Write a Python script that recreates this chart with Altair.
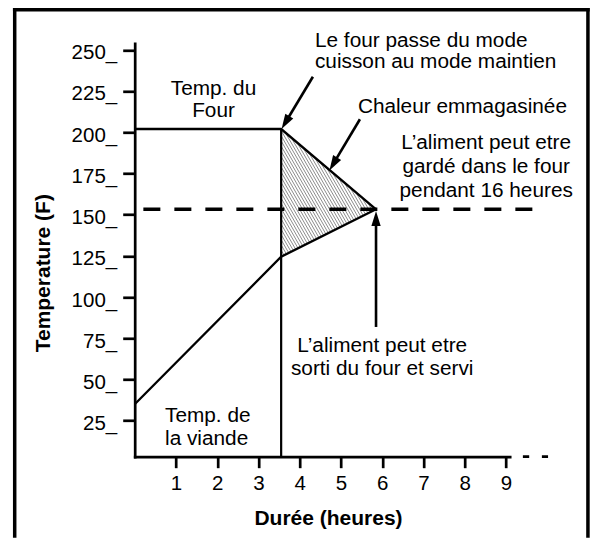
import math
import altair as alt
import pandas as pd

FONT = "Liberation Sans, Arial, Helvetica, sans-serif"

# ---------------- data ----------------
hours = [0, 3.55, 5.85]                 # start, oven switches to hold, food ready
oven_temp = [202, 202, 153.3]           # "Temp. du Four"
meat_temp = [35, 124.5, 153.3]          # "Temp. de la viande"
switch_hour = 3.55
hold_temp = 153.3
hold_from, hold_to = 0.21, 9.95         # dashed line extent
axis_more = [9.41, 10.02]               # "- -" after the x axis

x_ticks = [1, 2, 3, 4, 5, 6, 7, 8, 9]
y_ticks = [25, 50, 75, 100, 125, 150, 175, 200, 225, 250]

# arrows: start (x, y) -> tip (x, y)
arrow_x0 = [4.32, 5.46, 5.85]
arrow_y0 = [233.7, 207.9, 81.9]
arrow_x1 = [3.56, 4.72, 5.85]
arrow_y1 = [202.0, 176.9, 152.3]

notes = [
    ("Temp. du\nFour", 1.91, 222.6, "center", 22.3),
    ("Le four passe du mode\ncuisson au mode maintien", 4.37, 251.9, "left", 21.7),
    ("Chaleur emmagasinée", 5.41, 211.9, "left", 22),
    ("L\u2019aliment peut etre\ngardé dans le four\npendant 16 heures", 8.52, 189.9, "center", 24.2),
    ("L\u2019aliment peut etre\nsorti du four et servi", 6.0, 66.9, "center", 23.3),
    ("Temp. de\nla viande", 0.735, 24.0, "left", 22.7),
]

# ---------------- scales / layout ----------------
X_DOM = [0, 9.09]
Y_DOM = [3.2, 254.0]
W, H = 375, 413.4
SX = W / (X_DOM[1] - X_DOM[0])
SY = H / (Y_DOM[1] - Y_DOM[0])
PAD_L, PAD_T, PAD_R, PAD_B = 126.7, 35.3, 80, 81

x_axis = alt.Axis(values=x_ticks, title="Durée (heures)", grid=False,
                  domainColor="black", domainWidth=2.7, domainCap="square",
                  tickColor="black", tickWidth=2.7, tickSize=11,
                  labelFont=FONT, labelFontSize=20.5, labelColor="black",
                  labelBaseline="alphabetic", labelPadding=22.3,
                  labelFlush=False, labelOverlap=False,
                  titleFont=FONT, titleFontSize=21, titleFontWeight="bold",
                  titleColor="black", titleX=193.3, titleY=68.3,
                  titleBaseline="alphabetic", titleAlign="center")
y_axis = alt.Axis(values=y_ticks, title="Temperature (F)", grid=False,
                  labelExpr="datum.label + '_'",
                  domainColor="black", domainWidth=2.7, domainCap="square",
                  tickColor="black", tickWidth=2.7, tickSize=12,
                  labelFont=FONT, labelFontSize=20.5, labelColor="black",
                  labelBaseline="alphabetic", labelOffset=8.9, labelPadding=6,
                  labelFlush=False, labelOverlap=False,
                  titleFont=FONT, titleFontSize=21, titleFontWeight="bold",
                  titleColor="black", titleX=-84.7, titleY=229.4, titleAngle=270,
                  titleBaseline="alphabetic", titleAlign="center")

xs = alt.Scale(domain=X_DOM, nice=False, zero=False)
ys = alt.Scale(domain=Y_DOM, nice=False, zero=False)


def X(f="x"):
    return alt.X(f"{f}:Q", scale=xs, axis=x_axis)


def Y(f="y"):
    return alt.Y(f"{f}:Q", scale=ys, axis=y_axis)


def to_px(x, y):
    return ((x - X_DOM[0]) * SX, (Y_DOM[1] - y) * SY)


def to_data(px, py):
    return (px / SX + X_DOM[0], Y_DOM[1] - py / SY)


# ---------------- frame ----------------
one = pd.DataFrame({"k": [0]})
frame_style = dict(color="black", strokeWidth=3.5)
right_edge = W + PAD_R - 1.75
frame = [
    alt.Chart(one).mark_rule(**frame_style).encode(
        x=alt.value(-120), y=alt.value(-PAD_T), y2=alt.value(H + PAD_B)),
    alt.Chart(one).mark_rule(**frame_style).encode(
        x=alt.value(right_edge), y=alt.value(-PAD_T), y2=alt.value(H + PAD_B)),
    alt.Chart(one).mark_rule(**frame_style).encode(
        x=alt.value(-121.75), x2=alt.value(right_edge + 1.75),
        y=alt.value(-PAD_T + 1.75)),
]

# ---------------- hatch texture of the stored-heat triangle ----------------
tri = [to_px(hours[1], oven_temp[1]), to_px(hours[2], oven_temp[2]),
       to_px(hours[1], meat_temp[1])]
th = math.radians(60)
d = (math.cos(th), math.sin(th))
n = (-d[1], d[0])
cs = [n[0] * p[0] + n[1] * p[1] for p in tri]
segs = []
c = min(cs) + 1.2
while c < max(cs):
    pts = []
    for i in range(3):
        a, b = tri[i], tri[(i + 1) % 3]
        ca = n[0] * a[0] + n[1] * a[1] - c
        cb = n[0] * b[0] + n[1] * b[1] - c
        if ca * cb < 0:
            t = ca / (ca - cb)
            pts.append((a[0] + t * (b[0] - a[0]), a[1] + t * (b[1] - a[1])))
    if len(pts) >= 2:
        p0 = to_data(*pts[0])
        p1 = to_data(*pts[1])
        segs.append({"x": p0[0], "y": p0[1], "x2": p1[0], "y2": p1[1]})
    c += 2.6
hatch = alt.Chart(pd.DataFrame(segs)).mark_rule(
    color="#777777", strokeWidth=0.85).encode(x=X(), y=Y(), x2="x2:Q", y2="y2:Q")

# ---------------- curves ----------------
curves_df = pd.DataFrame({
    "x": hours + hours,
    "y": oven_temp + meat_temp,
    "s": ["four"] * 3 + ["viande"] * 3,
})
curves = alt.Chart(curves_df).mark_line(color="black", strokeWidth=2.3).encode(
    x=X(), y=Y(), detail="s:N")

vline = alt.Chart(pd.DataFrame({"x": [switch_hour], "y": [Y_DOM[0]],
                                "y2": [oven_temp[1]]})).mark_rule(
    color="black", strokeWidth=2.2).encode(x=X(), y=Y(), y2="y2:Q")

dashed = alt.Chart(pd.DataFrame({"x": [hold_from], "x2": [hold_to],
                                 "y": [hold_temp]})).mark_rule(
    color="black", strokeWidth=3.6, strokeDash=[17, 14]).encode(
    x=X(), x2="x2:Q", y=Y())

more = alt.Chart(pd.DataFrame({"x": [axis_more[0]], "x2": [axis_more[1]],
                               "y": [Y_DOM[0]]})).mark_rule(
    color="black", strokeWidth=2.7, strokeDash=[6.3, 12.7]).encode(
    x=X(), x2="x2:Q", y=Y())

# ---------------- arrows ----------------
HEAD = 15
shafts, heads = [], []
for x0, y0, x1, y1 in zip(arrow_x0, arrow_y0, arrow_x1, arrow_y1):
    dxp = (x1 - x0) * SX
    dyp = -(y1 - y0) * SY
    L = math.hypot(dxp, dyp)
    ux, uy = dxp / L, dyp / L
    xe = x1 - 9 * ux / SX
    ye = y1 + 9 * uy / SY
    shafts.append({"x": x0, "y": y0, "x2": xe, "y2": ye})
    ang = math.degrees(math.atan2(ux, -uy)) % 360
    heads.append({"x": x1, "y": y1, "a": ang})

arrow_shafts = alt.Chart(pd.DataFrame(shafts)).mark_rule(
    color="black", strokeWidth=2.6).encode(x=X(), y=Y(), x2="x2:Q", y2="y2:Q")
arrow_heads = alt.Chart(pd.DataFrame(heads)).mark_point(
    shape="M0,0L-0.62,2L0.62,2Z", filled=True, size=HEAD * HEAD,
    color="black", opacity=1, strokeWidth=0).encode(
    x=X(), y=Y(), angle=alt.Angle("a:Q", scale=None))

# ---------------- texts ----------------
texts = []
for txt, tx, ty, al, lh in notes:
    texts.append(
        alt.Chart(pd.DataFrame({"x": [tx], "y": [ty], "t": [txt]})).mark_text(
            align=al, baseline="alphabetic", lineBreak="\n", lineHeight=lh,
            font=FONT, fontSize=20.8, color="black").encode(
            x=X(), y=Y(), text="t:N"))

chart = alt.layer(
    *frame, hatch, curves, vline, dashed, more, arrow_shafts, arrow_heads, *texts
).properties(
    width=W, height=H,
    autosize=alt.AutoSizeParams(type="none"),
    padding={"left": PAD_L, "top": PAD_T, "right": PAD_R, "bottom": PAD_B},
).configure_view(strokeWidth=0)

chart.save("out.html", embed_options={"renderer": "svg", "actions": False})
